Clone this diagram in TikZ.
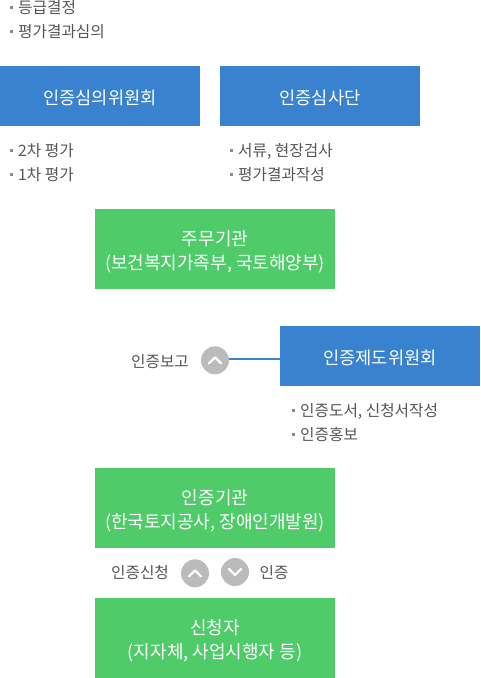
\documentclass[tikz,border=0pt]{standalone}
\usepackage{fontspec}
\usepackage{xcolor}
\usetikzlibrary{calc}
\setmainfont{Noto Sans CJK KR}
\definecolor{bluecol}{HTML}{3982D0}
\definecolor{greencol}{HTML}{4FCB6A}
\definecolor{circlecol}{HTML}{BBBBBB}
\definecolor{textcol}{HTML}{555555}
\definecolor{dotcol}{HTML}{8A8A8A}
\newcommand{\dotitem}{\textcolor{dotcol}{\raisebox{0.3em}{\rule{3pt}{3pt}}}\hspace{5pt}}
\newcommand{\chevup}[1]{\draw[chevline] ($(#1)+(-6,3)$) -- ($(#1)+(0,-3)$) -- ($(#1)+(6,3)$);}
\newcommand{\chevdown}[1]{\draw[chevline] ($(#1)+(-6,-3)$) -- ($(#1)+(0,3)$) -- ($(#1)+(6,-3)$);}
\tikzset{
  bluebox/.style={fill=bluecol, text=white, minimum width=200pt, minimum height=60pt, inner sep=0pt, text height=18pt, text depth=1pt, font=\fontsize{17.6}{24}\selectfont},
  greenbox/.style={fill=greencol, text=white, minimum width=240pt, minimum height=80pt, inner sep=0pt, align=center, text height=44pt, text depth=4pt, font=\fontsize{18}{24}\selectfont},
  listtext/.style={anchor=west, inner sep=0pt, text=textcol, align=left, font=\fontsize{15.7}{24}\selectfont},
  sidetext/.style={inner sep=0pt, text=textcol, font=\fontsize{15.7}{20}\selectfont},
  roundbtn/.style={circle, fill=circlecol, minimum size=28pt, inner sep=0pt},
  chevline/.style={white, line width=2.2pt, line cap=round, line join=round},
  linkline/.style={bluecol, line width=2pt}
}
\begin{document}
\begin{tikzpicture}[x=1pt, y=-1pt]
\useasboundingbox (0,0) rectangle (480,678);

% top list
\node[listtext] (toplist) at (10,19.5) {\dotitem 등급결정\\\dotitem 평가결과심의};

% blue boxes
\node[bluebox] (committee) at (100,96) {인증심의위원회};
\node[bluebox] (panel) at (320,96) {인증심사단};
\node[listtext] (committeelist) at (10,162.5) {\dotitem 2차 평가\\\dotitem 1차 평가};
\node[listtext] (panellist) at (230,162.5) {\dotitem 서류, 현장검사\\\dotitem 평가결과작성};

% green box, ministries
\node[greenbox] (ministry) at (215,249) {주무기관\\(보건복지가족부, 국토해양부)};

% report to council
\node[bluebox] (council) at (380,356) {인증제도위원회};
\node[sidetext] (reportlabel) at (160,362) {인증보고};
\node[roundbtn] (reportup) at (215,360.3) {};
\chevup{reportup}
\draw[linkline] ([yshift=1.6pt]reportup.east) -- ([yshift=-2.7pt]council.west);
\node[listtext] (councillist) at (292,423) {\dotitem 인증도서, 신청서작성\\\dotitem 인증홍보};

% agency and applicant
\node[greenbox] (agency) at (215,508) {인증기관\\(한국토지공사, 장애인개발원)};
\node[sidetext] (applylabel) at (140,572.5) {인증신청};
\node[roundbtn] (applyup) at (195,573.3) {};
\chevup{applyup}
\node[roundbtn] (certdown) at (235,572) {};
\chevdown{certdown}
\node[sidetext] (certlabel) at (274,572.5) {인증};
\node[greenbox] (applicant) at (215,638) {신청자\\(지자체, 사업시행자 등)};
\end{tikzpicture}
\end{document}
